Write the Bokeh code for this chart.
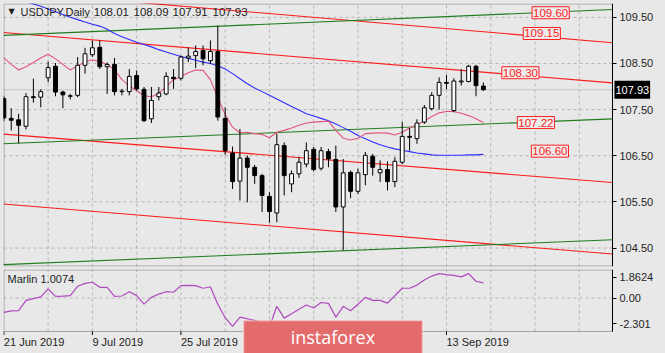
from bokeh.plotting import figure
from bokeh.models import (Range1d, FixedTicker, Label, BoxAnnotation, LinearAxis,
                          ColumnDataSource, PrintfTickFormatter)
from bokeh.layouts import column
from bokeh.embed import file_html
from bokeh.resources import INLINE

# ---------------- data ----------------
symbol = "USDJPY,Daily"
date_ticks = [0, 12, 24, 36, 48, 60]
date_labels = ["21 Jun 2019", "9 Jul 2019", "25 Jul 2019", "12 Aug 2019",
               "28 Aug 2019", "13 Sep 2019"]

opens = [107.74, 107.31, 107.28, 107.14, 107.78, 107.77, 108.19, 108.44, 107.88, 107.80,
         107.81, 108.46, 108.69, 108.85, 108.43, 108.48, 107.89, 107.89, 108.24, 107.94,
         107.30, 107.78, 107.84, 108.20, 108.18, 108.62, 108.67, 108.78, 108.56, 108.76,
         107.31, 106.56, 105.95, 106.45, 106.25, 106.07, 105.62, 105.26, 106.72, 105.89,
         106.11, 106.32, 106.64, 106.23, 106.59, 106.42, 105.39, 106.14, 105.73, 106.09,
         106.49, 106.13, 106.20, 105.94, 106.36, 106.92, 106.87, 107.23, 107.52, 107.81,
         108.09, 107.48, 108.10, 108.11, 108.44, 108.01]
highs = [107.80, 107.53, 107.41, 107.86, 108.17, 107.94, 108.54, 108.51, 107.91, 107.84,
         108.64, 108.84, 109.00, 109.00, 108.52, 108.62, 107.95, 108.38, 108.35, 107.99,
         107.99, 107.99, 108.31, 108.38, 108.67, 108.85, 108.89, 108.89, 109.00, 109.32,
         107.55, 106.70, 107.08, 106.51, 106.30, 106.11, 105.71, 106.98, 106.79, 106.18,
         106.47, 106.79, 106.69, 106.69, 106.65, 106.72, 106.43, 106.18, 106.22, 106.58,
         106.54, 106.40, 106.38, 106.47, 107.23, 107.10, 107.29, 107.60, 107.88, 108.20,
         108.25, 108.18, 108.38, 108.47, 108.47, 108.09]
lows = [107.25, 107.05, 106.77, 107.07, 107.65, 107.55, 108.09, 107.79, 107.53, 107.72,
        107.77, 108.28, 108.64, 108.38, 107.84, 107.81, 107.81, 107.81, 107.91, 107.23,
        107.21, 107.70, 107.81, 107.95, 108.13, 108.53, 108.40, 108.46, 108.49, 107.26,
        106.52, 105.78, 105.53, 105.49, 105.89, 105.28, 105.05, 105.06, 105.64, 105.71,
        106.02, 106.25, 106.16, 106.18, 106.25, 105.28, 104.45, 105.58, 105.67, 105.86,
        106.07, 105.93, 105.75, 105.82, 106.32, 106.61, 106.76, 107.19, 107.48, 107.50,
        107.94, 107.44, 108.02, 108.09, 107.79, 107.91]
closes = [107.32, 107.27, 107.16, 107.78, 107.76, 107.89, 108.41, 107.88, 107.82, 107.79,
          108.46, 108.71, 108.84, 108.43, 108.48, 107.89, 107.90, 108.22, 107.95, 107.26,
          107.70, 107.86, 108.22, 108.17, 108.64, 108.66, 108.76, 108.60, 108.76, 107.34,
          106.61, 105.94, 106.45, 106.25, 106.07, 105.64, 105.29, 106.74, 106.07, 106.11,
          106.36, 106.61, 106.20, 106.61, 106.43, 105.39, 106.13, 105.73, 106.13, 106.51,
          106.25, 106.20, 105.94, 106.38, 106.92, 106.90, 107.21, 107.54, 107.81, 108.09,
          108.07, 108.12, 108.12, 108.44, 108.02, 107.93]

ma_blue = [109.99, 109.94, 109.89, 109.84, 109.79, 109.74, 109.68, 109.62, 109.56, 109.50,
           109.45, 109.40, 109.35, 109.31, 109.24, 109.15, 109.08, 109.02, 108.96, 108.91,
           108.86, 108.80, 108.75, 108.70, 108.65, 108.61, 108.57, 108.53, 108.50, 108.45,
           108.38, 108.28, 108.17, 108.06, 107.97, 107.89, 107.81, 107.73, 107.65, 107.57,
           107.49, 107.41, 107.36, 107.31, 107.26, 107.19, 107.11, 107.03, 106.94, 106.87,
           106.80, 106.74, 106.69, 106.65, 106.62, 106.59, 106.56, 106.54, 106.52, 106.51,
           106.51, 106.51, 106.51, 106.52, 106.52, 106.53]
ma_pink = [108.62, 108.48, 108.36, 108.43, 108.52, 108.62, 108.70, 108.60, 108.48, 108.36,
           108.45, 108.53, 108.58, 108.54, 108.48, 108.36, 108.15, 108.02, 107.91, 107.80,
           107.78, 107.85, 108.00, 108.15, 108.22, 108.30, 108.36, 108.35, 108.15, 107.75,
           107.40, 107.12, 107.00, 107.01, 106.98, 106.96, 106.89, 107.01, 107.05, 107.10,
           107.16, 107.21, 107.23, 107.24, 107.25, 107.05, 106.88, 106.84, 106.88, 106.98,
           106.99, 107.00, 106.99, 106.95, 107.01, 107.10, 107.18, 107.25, 107.35, 107.43,
           107.46, 107.46, 107.42, 107.37, 107.30, 107.22]
marlin = [-1.28, -1.15, -1.13, -0.21, -0.05, 0.10, 0.80, 0.15, 0.17, 0.21,
          1.04, 1.30, 1.40, 0.95, 0.95, 0.15, 0.18, 0.56, 0.21, -0.54,
          0.06, 0.35, 0.56, 0.51, 1.10, 1.12, 1.10, 0.87, 0.98, -0.55,
          -1.75, -2.53, -1.70, -1.85, -1.99, -2.23, -2.60, -0.74, -1.79, -1.40,
          -1.00, -0.62, -0.89, -0.40, -0.48, -1.70, -0.74, -1.13, -0.55, 0.06,
          -0.21, -0.21, -0.45, 0.20, 0.87, 0.87, 1.15, 1.60, 1.95, 2.17,
          2.08, 2.02, 1.88, 2.17, 1.49, 1.34]
marlin_name = "Marlin"
marlin_value = 1.0074
marlin_ticks = [-2.301, 0.0, 1.8624]
marlin_tick_labels = ["-2.301", "0.00", "1.8624"]

price_ticks = [104.5, 105.5, 106.5, 107.5, 108.5, 109.5]

# trend lines: (bar0, price0) -> (bar1, price1)
trend_bars = [-0.05, 82.5]
red_start = [110.07, 109.17, 106.97, 105.455]
red_end = [108.95, 108.08, 105.92, 104.37]
green_start = [109.11, 106.76, 104.14]
green_end = [109.67, 107.30, 104.68]

level_prices = [109.60, 109.15, 108.30, 107.22, 106.60]
level_bars = [71.6, 70.4, 67.5, 69.6, 71.5]

# ---------------- geometry / style ----------------
BG = "#e8e8e8"
FONT = "Liberation Sans"
TXT = "#1e1e1e"
GRID = "#b5b5b5"
PX_BAR = 7.377                # pixels per bar
PX_P = 46.14                  # pixels per price unit
PX_M = 11.24                  # pixels per indicator unit
X0, XR = -0.05, 82.5          # chart area in bar units (right edge = price scale line)
X1 = X0 + 662 / PX_BAR        # canvas right edge
Y0, Y1 = 104.10, 109.80       # main panel price range
M_BOT, M_TOP = -2.98, 2.536   # indicator panel range
M_CANVAS_BOT = M_BOT - 22 / PX_M
n = len(closes)
bars = list(range(n))
vgrid = list(range(6, 84, 6))

# ================= main panel =================
p = figure(width=665, height=268,
           x_range=Range1d(X0, X1), y_range=Range1d(Y0, Y1),
           output_backend="svg", toolbar_location=None,
           x_axis_location=None, y_axis_location=None,
           min_border_left=3, min_border_right=0, min_border_top=3, min_border_bottom=2,
           background_fill_color=BG, border_fill_color=BG, outline_line_color=None)
p.grid.visible = False

# grid
p.segment(x0=[X0] * len(price_ticks), y0=price_ticks, x1=[XR] * len(price_ticks), y1=price_ticks,
          line_color=GRID, line_dash="3 3", line_width=1)
p.segment(x0=vgrid, y0=[Y0] * len(vgrid), x1=vgrid, y1=[Y1] * len(vgrid),
          line_color=GRID, line_dash="3 3", line_width=1)

# current price line
p.segment(x0=[X0], y0=[closes[-1]], x1=[XR], y1=[closes[-1]], line_color="#c4c4c4", line_width=1)

# trend lines
p.segment(x0=[trend_bars[0]] * len(red_start), y0=red_start,
          x1=[trend_bars[1]] * len(red_end), y1=red_end,
          line_color="#ff1a1a", line_width=1.1)
p.segment(x0=[trend_bars[0]] * len(green_start), y0=green_start,
          x1=[trend_bars[1]] * len(green_end), y1=green_end,
          line_color="#1f7d1f", line_width=1.1)

# moving averages
p.line(bars, ma_blue, line_color="#2e2eff", line_width=1.1)
p.line(bars, ma_pink, line_color="#e2557a", line_width=1.1)

# candles
src = ColumnDataSource(dict(
    x=bars, o=opens, h=highs, l=lows, c=closes,
    top=[max(a, b) for a, b in zip(opens, closes)],
    bot=[min(a, b) for a, b in zip(opens, closes)],
    fill=["white" if c >= o else "black" for o, c in zip(opens, closes)],
))
p.segment(x0="x", y0="l", x1="x", y1="h", source=src, line_color="black", line_width=1)
p.vbar(x="x", width=0.52, top="top", bottom="bot", source=src,
       fill_color="fill", line_color="black", line_width=1)

# frame border (left/top/bottom); right edge is the price-scale axis line
p.add_layout(BoxAnnotation(left=X0 + 0.5 / PX_BAR, right=XR, top=Y1 - 0.5 / PX_P,
                           bottom=Y0 + 0.5 / PX_P, fill_color=None,
                           line_color="black", line_width=1))

# price scale
ya = LinearAxis(fixed_location=XR, ticker=FixedTicker(ticks=price_ticks),
                formatter=PrintfTickFormatter(format="%.2f"))
ya.major_tick_out = 4
ya.major_tick_in = 0
ya.minor_tick_out = 0
ya.minor_tick_in = 0
ya.axis_line_color = "black"
ya.major_label_standoff = 3
ya.major_label_text_font = FONT
ya.major_label_text_font_size = "11px"
ya.major_label_text_color = TXT
p.add_layout(ya, "right")

# level labels
for b, lv in zip(level_bars, level_prices):
    p.add_layout(Label(x=b, y=lv, text=f"{lv:.2f}", text_font=FONT, text_font_size="11.5px",
                       text_color="#ff2020", text_align="left", text_baseline="middle",
                       background_fill_color="#ececec", border_line_color="#ff2020",
                       border_line_width=1, padding=(1, 2)))

# current price box on the scale
p.add_layout(Label(x=XR + 2 / PX_BAR, y=closes[-1], text=f"{closes[-1]:.2f}", text_font=FONT,
                   text_font_size="11px", text_color="white", text_align="left",
                   text_baseline="middle", background_fill_color="black",
                   padding=(1, 5)))

# title
ty = Y1 - 8 / PX_P
p.add_layout(Label(x=0.63, y=ty, text="\u25BC", text_font="DejaVu Sans", text_font_size="8px",
                   text_color=TXT, text_align="left", text_baseline="middle"))
p.add_layout(Label(x=2.25, y=ty, text=symbol, text_font=FONT, text_font_size="11px",
                   text_color=TXT, text_align="left", text_baseline="middle"))
for xb, val in zip([12.19, 17.57, 22.86, 28.28], [opens[-1], highs[-1], lows[-1], closes[-1]]):
    p.add_layout(Label(x=xb, y=ty, text=f"{val:.2f}", text_font=FONT, text_font_size="11.5px",
                       text_color=TXT, text_align="left", text_baseline="middle"))

# ================= indicator panel =================
q = figure(width=665, height=85,
           x_range=p.x_range, y_range=Range1d(M_CANVAS_BOT, M_TOP),
           output_backend="svg", toolbar_location=None,
           x_axis_location=None, y_axis_location=None,
           min_border_left=3, min_border_right=0, min_border_top=1, min_border_bottom=0,
           background_fill_color=BG, border_fill_color=BG, outline_line_color=None)
q.grid.visible = False

q.segment(x0=[X0], y0=[0.0], x1=[XR], y1=[0.0], line_color=GRID, line_dash="3 3", line_width=1)
q.segment(x0=vgrid, y0=[M_BOT] * len(vgrid), x1=vgrid, y1=[M_TOP] * len(vgrid),
          line_color=GRID, line_dash="3 3", line_width=1)

q.line(bars, marlin, line_color="#b048c0", line_width=1.2)

q.add_layout(BoxAnnotation(left=X0 + 0.5 / PX_BAR, right=XR, top=M_TOP - 0.5 / PX_M,
                           bottom=M_BOT, fill_color=None, line_color="black", line_width=1))

qa = LinearAxis(fixed_location=XR, bounds=(M_BOT, M_TOP), ticker=FixedTicker(ticks=marlin_ticks))
qa.major_label_overrides = {t: s for t, s in zip(marlin_ticks, marlin_tick_labels)}
qa.major_tick_in = 0
qa.minor_tick_in = 0
qa.minor_tick_out = 0
qa.axis_line_color = "black"
qa.major_label_text_font = FONT
qa.major_label_text_color = TXT
qa.major_label_text_font_size = "11px"
qa.major_tick_out = 4
qa.major_label_standoff = 3
q.add_layout(qa, "right")

# time scale: tick marks below the panel, labels left-aligned at the ticks (MT4 style)
q.segment(x0=date_ticks, y0=[M_BOT] * len(date_ticks),
          x1=date_ticks, y1=[M_BOT - 3.5 / PX_M] * len(date_ticks),
          line_color="black", line_width=1)
for t, s in zip(date_ticks, date_labels):
    q.add_layout(Label(x=t, y=M_BOT - 10.5 / PX_M, text=s, text_font=FONT,
                       text_font_size="11px", text_color=TXT, text_align="left",
                       text_baseline="middle"))

q.add_layout(Label(x=0.49, y=1.65, text=f"{marlin_name} {marlin_value:.4f}", text_font=FONT,
                   text_font_size="11px", text_color=TXT, text_align="left",
                   text_baseline="middle"))

# watermark
q.add_layout(BoxAnnotation(left=32.48, right=56.75, top=-2.0, bottom=M_CANVAS_BOT - 1,
                           fill_color="#e46b6b", fill_alpha=1.0,
                           line_color="white", line_width=2))
q.add_layout(Label(x=44.6, y=-3.51, text="instaforex", text_font="Open Sans",
                   text_font_size="18px", text_color="white", text_align="center",
                   text_baseline="middle"))

layout = column(p, q, spacing=0, background=BG)
open("out.html", "w").write(file_html(layout, INLINE))
